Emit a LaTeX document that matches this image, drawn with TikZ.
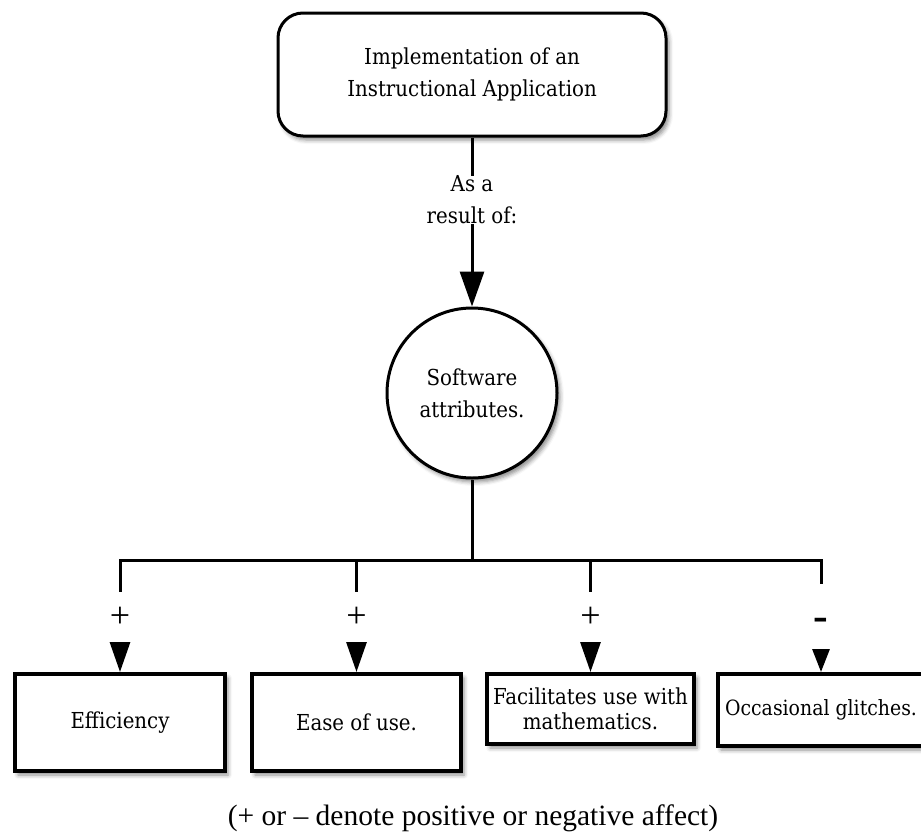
\documentclass[tikz,border=0pt]{standalone}
\usepackage{fontspec}
\setmainfont{Liberation Serif}
\newfontfamily\slabfont{DejaVu Serif Condensed}
\usetikzlibrary{arrows.meta,shadows.blur}

\begin{document}
\begin{tikzpicture}[x=1pt,y=-1pt,
  every node/.style={font=\slabfont\fontsize{22}{32}\selectfont},
  soft/.style={blur shadow={shadow xshift=3pt,shadow yshift=-4pt,shadow blur radius=4pt,shadow opacity=45}},
  headbox/.style={draw,line width=3pt,rounded corners=25pt,fill=white,
    minimum width=388pt,minimum height=123pt,align=center,soft},
  hub/.style={draw,circle,line width=3pt,fill=white,minimum size=170pt,align=center,soft},
  leaf/.style={draw,line width=4pt,fill=white,align=center,inner sep=2pt,soft},
  link/.style={line width=3pt},
  bigtip/.style={-{Triangle[width=24pt,length=35pt]}},
  midtip/.style={-{Triangle[width=20pt,length=30pt]}},
  smalltip/.style={-{Triangle[width=17pt,length=23pt]}},
  sign/.style={fill=white,inner sep=0pt,minimum width=26pt},
  plus/.style={sign,minimum height=50pt,pos=0.51,font=\rmfamily\fontsize{36}{36}\selectfont}
]
\useasboundingbox (0,0) rectangle (921,833);

% main blocks
\node[headbox] (top) at (472,74.5) {Implementation of an\\Instructional Application};
\node[hub] (hub) at (472,393) {Software\\attributes.};

% outcome boxes
\node[leaf,minimum width=210pt,minimum height=97pt] (b1) at (120,722.5) {Efficiency};
\node[leaf,minimum width=209pt,minimum height=97pt] (b2) at (356.5,722.5) {Ease of use.};
\node[leaf,minimum width=207pt,minimum height=70pt,font=\slabfont\fontsize{22}{25}\selectfont]
  (b3) at (590.5,709) {Facilitates use with\\mathematics.};
\node[leaf,minimum width=206pt,minimum height=72pt,font=\slabfont\fontsize{21}{25}\selectfont]
  (b4) at (821,710) {Occasional glitches.};

% cause link
\draw[link,bigtip] (top) -- node[fill=white,inner sep=0pt,align=center,pos=0.37] (why) {As a\\result of:} (hub);

% distribution bar
\coordinate (bar) at (472,560);
\draw[link] (hub) -- (bar);
\draw[link,line cap=rect] (b1.north |- bar) -- (b4.north |- bar);

% branches with signs
\draw[link,midtip] (b1.north |- bar) -- node[plus] (s1) {+} (b1.north);
\draw[link,midtip] (b2.north |- bar) -- node[plus] (s2) {+} (b2.north);
\draw[link,midtip] (b3.north |- bar) -- node[plus] (s3) {+} (b3.north);
\draw[link,smalltip] (b4.north |- bar) -- node[sign,pos=0.5,minimum height=65pt,
  text height=29pt,text depth=0pt,
  font=\rmfamily\bfseries\fontsize{44}{44}\selectfont] (s4) {-} (b4.north);

% legend
\node[font=\rmfamily\fontsize{29.5}{34}\selectfont] (note) at (473,818) {(+ or – denote positive or negative affect)};
\end{tikzpicture}
\end{document}
